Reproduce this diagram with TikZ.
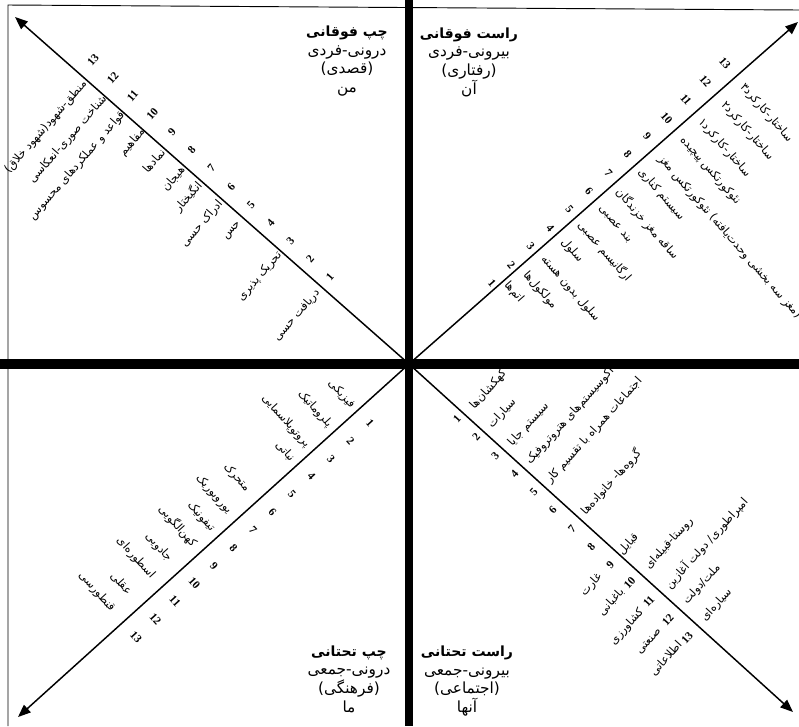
\documentclass[tikz,border=0pt]{standalone}
\usepackage{fontspec}
\newfontfamily\fafont[Script=Arabic]{DejaVu Sans}
\newfontfamily\numfont{Liberation Serif}
\TeXXeTstate=1
\usetikzlibrary{arrows.meta}
\newcommand\fatxt[1]{\fafont\beginR #1\endR}
\newcommand\hdtop[1]{{\bfseries\fontsize{10.5}{14}\selectfont\fatxt{#1}}}
\tikzset{
  ax/.style={-{Triangle[length=9.5pt,width=7.5pt]},line width=1.1pt},
  vbar/.style={line width=6pt},
  hbar/.style={line width=7.5pt},
  frm/.style={line width=0.7pt},
  lbl/.style={inner sep=0pt,font=\fafont\fontsize{8.5}{9}\selectfont},
  num/.style={inner sep=0pt,font=\numfont\bfseries\fontsize{8.5}{9}\selectfont},
  hd/.style={align=center,inner sep=0pt,font=\fafont\fontsize{11.5}{14}\selectfont}
}

\begin{document}
\begin{tikzpicture}[x=0.75pt,y=-0.75pt]
\useasboundingbox (0,0) rectangle (799,726);
% frame and the two bars
\draw[frm] (8,726) -- (8,5) -- (799,10);
\draw[vbar] (409,0) -- (409,726);
\draw[hbar] (0,364) -- (799,364);
% axes
\coordinate (o) at (409,364);
\coordinate (tul) at (15,17);
\coordinate (tur) at (798,22);
\coordinate (tbl) at (18,717);
\coordinate (tbr) at (793,712);
\draw[ax] (o) -- (tul);
\draw[ax] (o) -- (tur);
\draw[ax] (o) -- (tbl);
\draw[ax] (o) -- (tbr);
% headings
\node[hd] (hul) at (347,61) {\hdtop{چپ فوقانی}\\\fatxt{درونی-فردی}\\\fatxt{(قصدی)}\\\fatxt{من}};
\node[hd] (hur) at (469,62) {\hdtop{راست فوقانی}\\\fatxt{بیرونی-فردی}\\\fatxt{(رفتاری)}\\\fatxt{آن}};
\node[hd] (hbl) at (349,679) {\hdtop{چپ تحتانی}\\\fatxt{درونی-جمعی}\\\fatxt{(فرهنگی)}\\\fatxt{ما}};
\node[hd] (hbr) at (467,681) {\hdtop{راست تحتانی}\\\fatxt{بیرونی-جمعی}\\\fatxt{(اجتماعی)}\\\fatxt{آنها}};
% level numbers
\foreach \i in {1,...,13} {
  \node[num,rotate=49] (nul\i) at ({330-19.75*(\i-1)},{277-18.1*(\i-1)}) {\i};
  \node[num,rotate=-49] (nur\i) at ({492+19.4*(\i-1)},{283-18.33*(\i-1)}) {\i};
  \node[num,rotate=-48] (nbl\i) at ({370-19.5*(\i-1)},{423+17.83*(\i-1)}) {\i};
  \node[num,rotate=48] (nbr\i) at ({457+19.17*(\i-1)},{419+18.25*(\i-1)}) {\i};
}
% upper left
\foreach \x/\y/\t [count=\i] in {318/291/{دریافت حسی},280/253/{تحریک پذیری},240/223/{حس},
  221/202/{ادراک حسی},200/183/{انگیختار},183/168/{هیجان},163/150/{نمادها},143/130/{مفاهیم},
  123/113/{قواعد و عملکردهای محسوس},105/97/{شناخت صوری-انعکاسی},85/82/{منطق-شهود(شهود خلاق)}}
  \node[lbl,rotate=49,anchor=east] (lul\i) at (\x,\y) {\fatxt{\t}};
% upper right
\foreach \x/\y/\t [count=\i] in {506/283/{اتم‌ها},525/273/{مولکول‌ها},543/257/{سلول بدون هسته},
  563/240/{سلول},580/223/{ارگانیسم عصبی},600/207/{بند عصبی},618/190/{ساقه مغز خزندگان},
  640/170/{سیستم کناری},660/157/{(مغز سه بخشی وحدت‌یافته) نئوکورتکس مغز},682/138/{نئوکورتکس پیچیده},
  700/120/{ساختار-کارکرد۱},723/103/{ساختار-کارکرد۲},742/85/{ساختار-کارکرد۳}}
  \node[lbl,rotate=-49,anchor=west] (lur\i) at (\x,\y) {\fatxt{\t}};
% lower left
\foreach \x/\y/\t [count=\i] in {353/407/{فیزیکی},330/426/{پلروماتیک},308/446/{پروتوپلاسمایی},
  293/460/{نباتی},248/490/{متحرک},230/512/{یوروبوریک},213/530/{تیفونیک},195/545/{کهن‌الگویی},
  170/560/{جادویی},153/577/{اسطوره‌ای},130/593/{عقلی},113/610/{قنطورسی}}
  \node[lbl,rotate=-48,anchor=east] (lbl\i) at (\x,\y) {\fatxt{\t}};
% lower right
\foreach \x/\y/\t [count=\i] in {472/408/{کهکشان‌ها},490/427/{سیارات},510/445/{سیستم جایا},
  528/463/{اکوسیستم‌های هتروتروفیک},548/482/{اجتماعات همراه با تقسیم کار},583/513/{گروه‌ها- خانواده‌ها},
  620/553/{قبایل},647/568/{روستا-قبیله‌ای},667/587/{امپراطوری/ دولت آغازین},685/603/{ملت/دولت},
  703/620/{سیاره‌ای}}
  \node[lbl,rotate=48,anchor=west] (lbr\i) at (\x,\y) {\fatxt{\t}};
\foreach \x/\y/\t [count=\i] in {600/575/{غارت},622/590/{باغبانی},642/610/{کشاورزی},
  660/630/{صنعتی},680/643/{اطلاعاتی}}
  \node[lbl,rotate=48,anchor=east] (lbx\i) at (\x,\y) {\fatxt{\t}};
\end{tikzpicture}
\end{document}
